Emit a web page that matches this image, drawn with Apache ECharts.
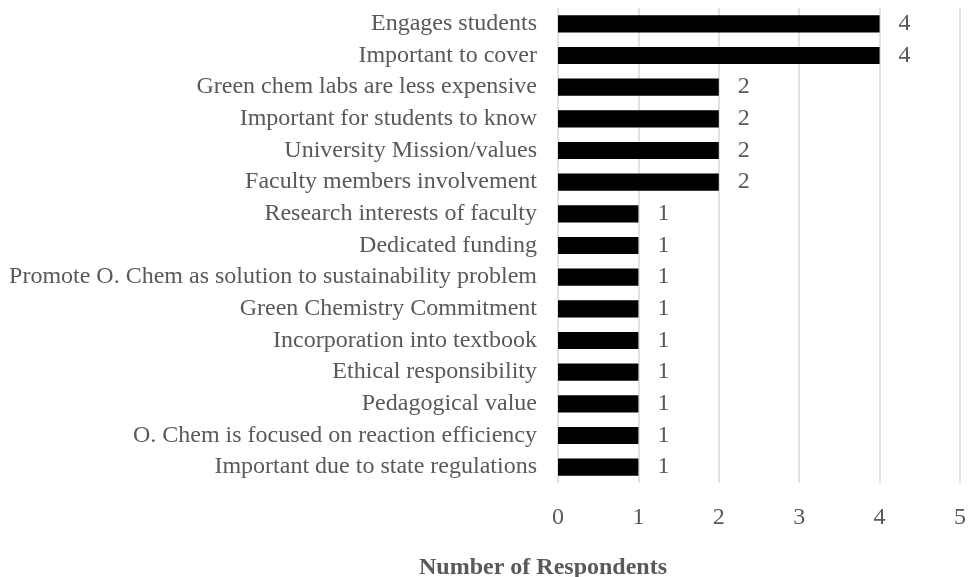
<!DOCTYPE html>
<html>
<head>
<meta charset="utf-8">
<script src="https://cdn.jsdelivr.net/npm/echarts@6/dist/echarts.min.js"></script>
<style>
  html, body { margin: 0; padding: 0; background: #fff; }
  #chart { width: 969px; height: 577px; }
</style>
</head>
<body>
<div id="chart"></div>
<script>
// Reasons given, top to bottom
const categories = [
  'Engages students',
  'Important to cover',
  'Green chem labs are less expensive',
  'Important for students to know',
  'University Mission/values',
  'Faculty members involvement',
  'Research interests of faculty',
  'Dedicated funding',
  'Promote O. Chem as solution to sustainability problem',
  'Green Chemistry Commitment',
  'Incorporation into textbook',
  'Ethical responsibility',
  'Pedagogical value',
  'O. Chem is focused on reaction efficiency',
  'Important due to state regulations'
];
const respondents = [4, 4, 2, 2, 2, 2, 1, 1, 1, 1, 1, 1, 1, 1, 1];
const xTicks = [0, 1, 2, 3, 4, 5];
const axisTitle = 'Number of Respondents';

const font = '"Liberation Serif", "Times New Roman", serif';
const chart = echarts.init(document.getElementById('chart'));
chart.setOption({
  animation: false,
  grid: { left: 558, right: 8, top: 8, bottom: 94, containLabel: false },
  title: {
    text: axisTitle,
    left: 538, top: 551,
    textAlign: 'center',
    textStyle: { fontFamily: font, fontSize: 24, fontWeight: 'bold', color: '#595959' }
  },
  xAxis: {
    type: 'value',
    min: xTicks[0], max: xTicks[xTicks.length - 1], interval: 1,
    axisLine: { show: false },
    axisTick: { show: false },
    splitLine: { show: true, lineStyle: { color: '#d9d9d9', width: 1.5 } },
    axisLabel: { fontFamily: font, fontSize: 24, color: '#595959', margin: 23 }
  },
  yAxis: {
    type: 'category',
    data: categories,
    inverse: true,
    axisLine: { show: false },
    axisTick: { show: false },
    axisLabel: { fontFamily: font, fontSize: 24, color: '#595959', margin: 21 }
  },
  series: [{
    type: 'bar',
    data: respondents,
    barCategoryGap: '46%',
    itemStyle: { color: '#000', borderColor: '#000', borderWidth: 2 },
    label: {
      show: true, position: 'right', distance: 19,
      fontFamily: font, fontSize: 24, color: '#595959'
    }
  }]
});
</script>
</body>
</html>
